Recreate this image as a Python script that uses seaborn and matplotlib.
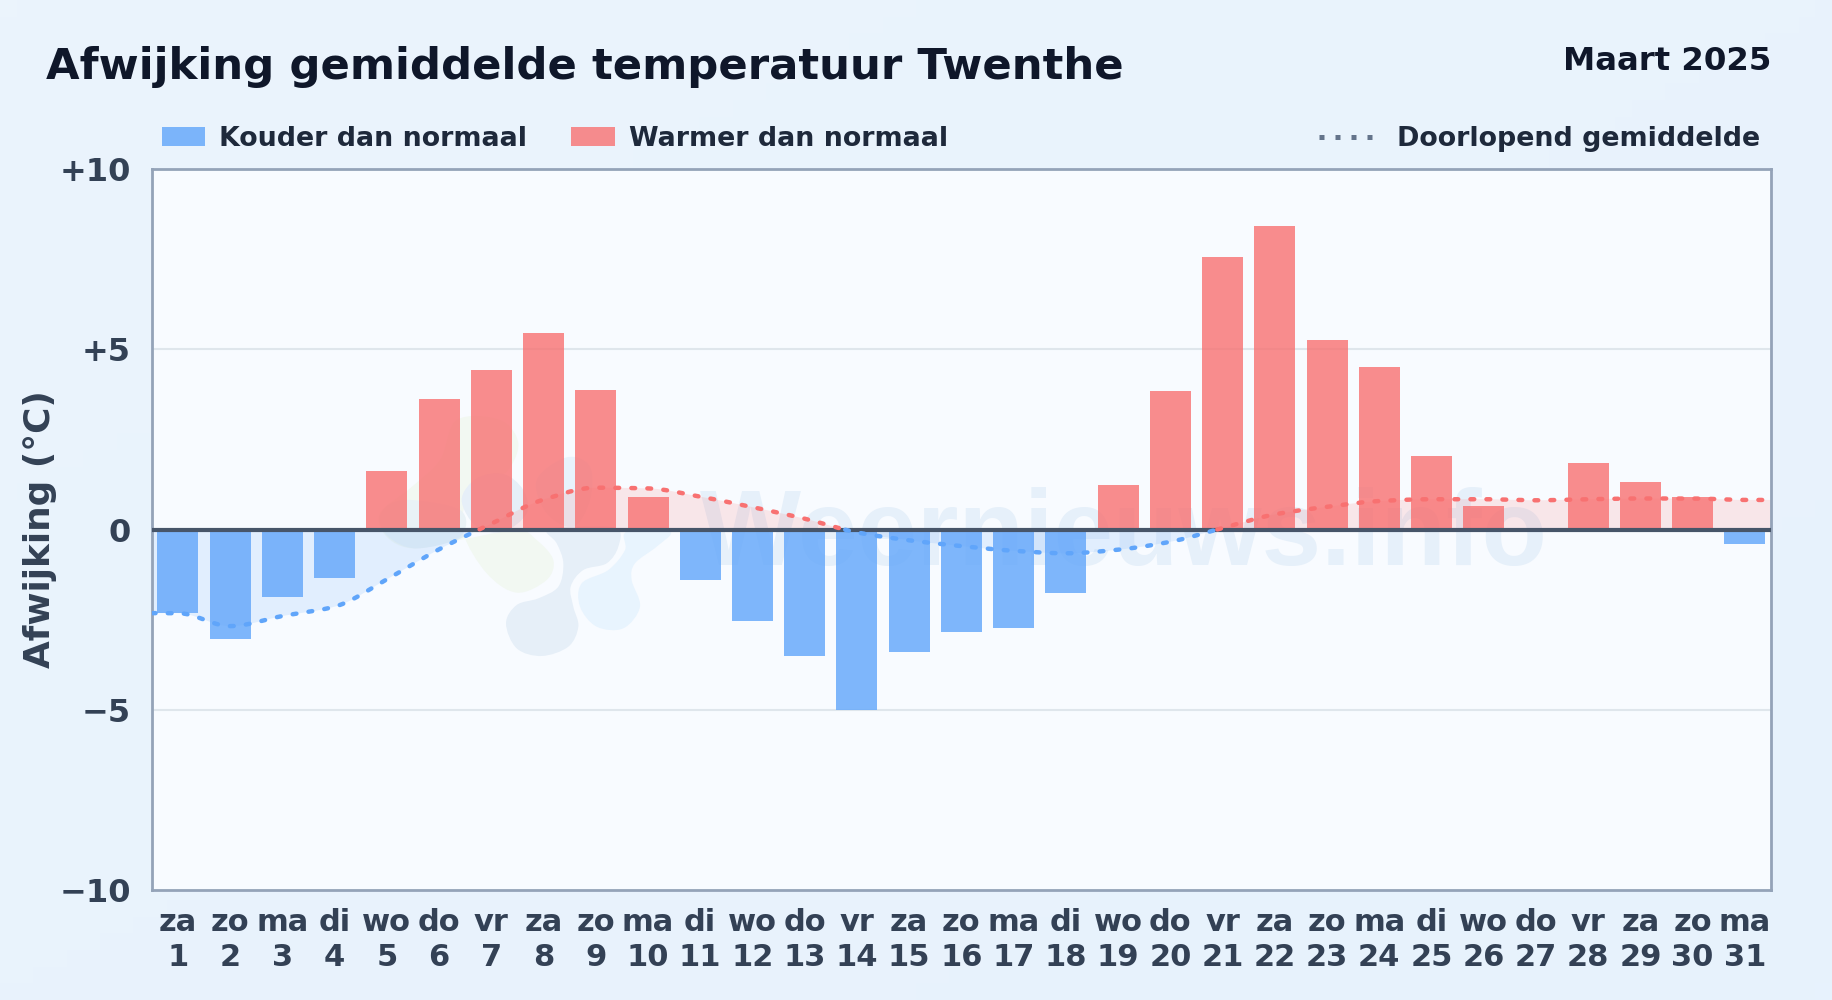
import numpy as np
import pandas as pd
import matplotlib
matplotlib.use("Agg")
import matplotlib.pyplot as plt
import seaborn as sns
from matplotlib.lines import Line2D
from matplotlib.patches import Patch, PathPatch
from matplotlib.path import Path
from matplotlib.transforms import Affine2D
from matplotlib.colors import LinearSegmentedColormap

weekdays = ["za","zo","ma","di","wo","do","vr","za","zo","ma","di","wo","do","vr","za","zo",
            "ma","di","wo","do","vr","za","zo","ma","di","wo","do","vr","za","zo","ma"]
days = list(range(1, 32))
deviation = [-2.32,-3.03,-1.86,-1.35,1.62,3.62,4.42,5.45,3.87,0.89,-1.41,-2.54,-3.52,-5.00,-3.39,-2.84,
             -2.74,-1.77,1.23,3.84,7.57,8.41,5.25,4.52,2.05,0.65,0.00,1.85,1.32,0.89,-0.40]
running_mean = [-2.32,-2.68,-2.40,-2.14,-1.38,-0.55,0.16,0.83,1.16,1.14,0.91,0.62,0.30,-0.08,-0.30,-0.46,
                -0.59,-0.66,-0.56,-0.34,0.04,0.42,0.63,0.79,0.84,0.84,0.81,0.84,0.86,0.86,0.82]
y_ticks = [-10, -5, 0, 5, 10]
y_labels = ["\u221210", "\u22125", "0", "+5", "+10"]
COLD_NAME, WARM_NAME = "Kouder dan normaal", "Warmer dan normaal"

BLUE, RED = "#60a5fa", "#f87171"
sns.set_theme(style="white")
plt.rcParams["font.family"] = ["DejaVu Sans"]
plt.rcParams["font.weight"] = "bold"

W, H = 1832, 1000
fig = plt.figure(figsize=(W/100, H/100), dpi=100)

# page background
bg = fig.add_axes([0, 0, 1, 1], zorder=-5)
g = np.add.outer(np.linspace(0, 1, 60), np.linspace(0, 1, 110)) / 2
bg.imshow(g, aspect="auto", extent=(0, 1, 0, 1), origin="upper",
          cmap=LinearSegmentedColormap.from_list("p", ["#ebf4fc", "#e7f2fd"]))
bg.axis("off")

ax = fig.add_axes([151.8/W, 1-890/H, (1771-151.8)/W, (890-169)/H])
ax.set_facecolor("#f8fbff")

# watermark (pixel coordinates of the page)
page = Affine2D().scale(1, -1).translate(0, H) + matplotlib.transforms.IdentityTransform()

def blob(pts, color):
    p = np.array(pts, float)
    n = len(p)
    verts, codes = [p[0]], [Path.MOVETO]
    for i in range(n):
        p0, p1, p2, p3 = p[i-1], p[i], p[(i+1) % n], p[(i+2) % n]
        verts += [p1 + (p2-p0)/6, p2 - (p3-p1)/6, p2]
        codes += [Path.CURVE4]*3
    patch = PathPatch(Path(verts, codes), fc=color, ec="none", transform=page, zorder=0.5)
    ax.add_patch(patch)
    patch.set_clip_path(ax.patch)

def z(*pts):
    return [(360 + a/3, 400 + b/3) for a, b in pts]

blob(z((60,340),(150,265),(240,180),(290,60),(420,60),(475,130),(440,215),(370,240),(320,300),(310,400),
       (380,520),(470,578),(560,540),(580,480),(530,420),(470,390),(300,420),(160,445),(80,410)), "#f2f8f2")
blob(z((60,345),(130,300),(300,330),(300,410),(170,445),(85,410)), "#e9f2f6")
blob(z((305,300),(350,235),(430,222),(490,270),(500,340),(430,395),(350,380)), "#e6eff8")
blob(z((560,390),(650,380),(770,385),(775,440),(740,490),(670,510),(632,560),(640,620),(655,680),(625,740),
       (545,768),(470,745),(438,670),(470,615),(535,595),(595,560),(610,490),(590,430)), "#e6eff8")
blob(z((530,240),(620,172),(690,200),(690,300),(640,380),(560,340)), "#e8f3fc")
blob(z((800,395),(930,395),(890,440),(825,490),(815,540),(840,620),(790,685),(710,680),(660,620),(665,550),(745,510),(795,450)), "#e8f4fe")
ax.text(700, 565, "Weernieuws.info", transform=page, fontsize=77, color="#e6f0fa", fontweight="bold",
        family="Liberation Sans", ha="left", va="baseline", zorder=0.6, clip_on=True)

ax.axhline(5, color="#dfe6ec", lw=1.5, zorder=1)
ax.axhline(-5, color="#dfe6ec", lw=1.5, zorder=1)

# running mean: monotone cubic through the daily values, flat to the plot edges
xs = np.array([-0.5] + list(range(31)) + [30.5])
ys = np.array([running_mean[0]] + running_mean + [running_mean[-1]])
h = np.diff(xs); s = np.diff(ys)
m = np.zeros_like(ys)
for i in range(1, len(ys)-1):
    if s[i-1]*s[i] > 0:
        w1, w2 = 2*h[i]+h[i-1], h[i]+2*h[i-1]
        m[i] = (w1+w2)/(w1/s[i-1]+w2/s[i])
xd, yd = [], []
for i in range(len(h)):
    t = np.linspace(0, 1, 40, endpoint=False)
    xd.append(xs[i]+t*h[i])
    yd.append((2*t**3-3*t**2+1)*ys[i]+(t**3-2*t**2+t)*h[i]*m[i]+(-2*t**3+3*t**2)*ys[i+1]+(t**3-t**2)*h[i]*m[i+1])
xd = np.append(np.concatenate(xd), 30.5); yd = np.append(np.concatenate(yd), ys[-1])
ax.fill_between(xd, yd, 0, where=yd <= 0, interpolate=True, color=BLUE, alpha=0.15, lw=0, zorder=2)
ax.fill_between(xd, yd, 0, where=yd >= 0, interpolate=True, color=RED, alpha=0.15, lw=0, zorder=2)

# bars
df = pd.DataFrame({
    "dag": [f"{w}\n{d}" for w, d in zip(weekdays, days)],
    "afwijking": deviation,
    "soort": [COLD_NAME if v < 0 else WARM_NAME for v in deviation],
})
sns.barplot(data=df, x="dag", y="afwijking", hue="soort", dodge=False, width=0.785, saturation=1,
            palette={COLD_NAME: BLUE, WARM_NAME: RED}, alpha=0.8, legend=False, ax=ax, zorder=3,
            linewidth=0, edgecolor="none")

ax.axhline(0, color="#475569", lw=3, zorder=4)

# one dashed line per stretch above or below zero
dash = dict(lw=3.2, dash_capstyle="round", linestyle=(0, (0.85, 2.75)), zorder=5)
sign = yd >= 0
cuts = np.flatnonzero(np.diff(sign)) + 1
for a, b in zip(np.r_[0, cuts], np.r_[cuts + 1, len(yd)]):
    colour = RED if sign[a] else BLUE
    sns.lineplot(x=xd[a:b], y=yd[a:b], color=colour, ax=ax, estimator=None, sort=False, errorbar=None, **dash)

ax.set_xlim(-0.5, 30.5)
ax.set_ylim(-10, 10)
ax.set_yticks(y_ticks, y_labels)
ax.set_xlabel("")
ax.set_ylabel("Afwijking (\u00b0C)", fontsize=25.8, color="#334155", fontweight="bold")
ax.yaxis.set_label_coords(-0.0585, 0.5)
ax.tick_params(axis="y", length=0, pad=15, labelsize=23, labelcolor="#334155")
ax.tick_params(axis="x", length=0, pad=13, labelsize=22, labelcolor="#334155")
for t in ax.get_xticklabels():
    t.set_linespacing(1.25)
for sp in ax.spines.values():
    sp.set_visible(True)
    sp.set_color("#94a3b8")
    sp.set_linewidth(2)

fig.text(46/W, 1-79/H, "Afwijking gemiddelde temperatuur Twenthe", fontsize=31.2, color="#0f172a",
         fontweight="bold", ha="left", va="baseline")
fig.text(1771/W, 1-70/H, "Maart 2025", fontsize=23.3, color="#0f172a", fontweight="bold",
         ha="right", va="baseline")

lk = dict(frameon=False, labelcolor="#1e293b", borderpad=0, borderaxespad=0,
          prop={"size": 19.4, "weight": "bold"})
leg1 = fig.legend(handles=[Patch(fc=BLUE, alpha=0.8, ec="none", label=COLD_NAME),
                           Patch(fc=RED, alpha=0.8, ec="none", label=WARM_NAME)],
                  loc="center left", bbox_to_anchor=(161.5/W, 1-139/H), ncol=2,
                  handlelength=1.63, handleheight=0.74, handletextpad=0.5, columnspacing=1.65, **lk)
leg2 = fig.legend(handles=[Line2D([], [], color="#64748b", lw=3.6, linestyle=(0, (1, 2.2)),
                                  dash_capstyle="butt", label="Doorlopend gemiddelde")],
                  loc="center right", bbox_to_anchor=(1760/W, 1-139/H),
                  handlelength=2.0, handletextpad=0.88, **lk)

fig.savefig("out.png", dpi=100, facecolor="#e9f3fc")
